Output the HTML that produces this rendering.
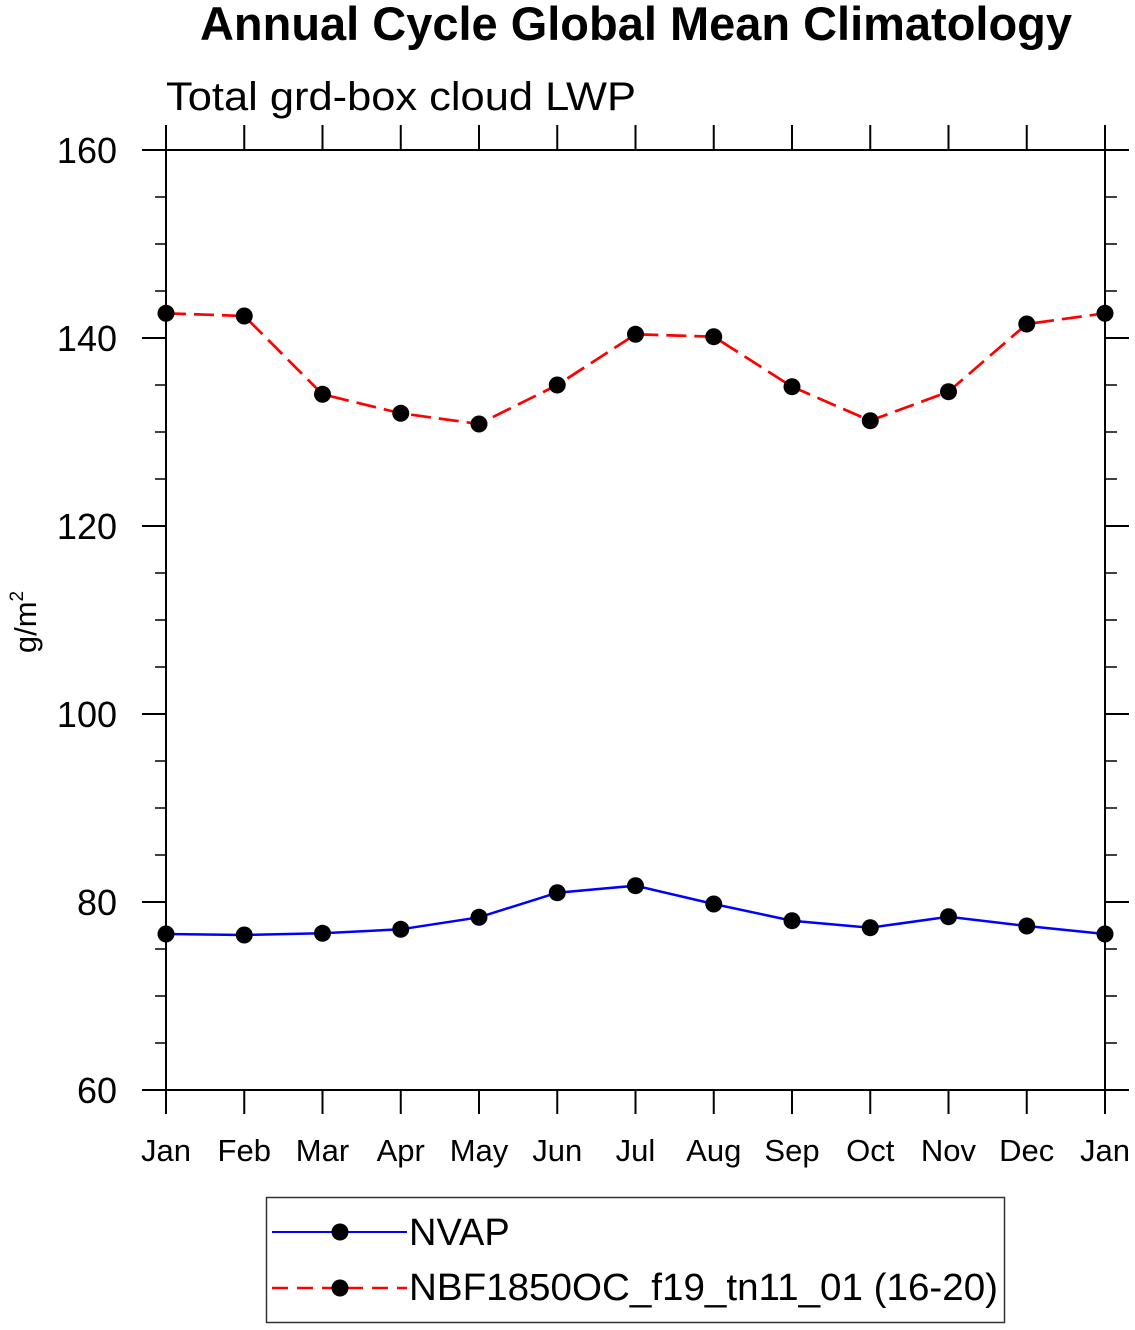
<!DOCTYPE html>
<html>
<head>
<meta charset="utf-8">
<style>
html,body{margin:0;padding:0;background:#fff;}
svg{display:block;}
text{font-family:"Liberation Sans",Arial,Helvetica,sans-serif;fill:#000;}
</style>
</head>
<body>
<svg width="1135" height="1330" viewBox="0 0 1135 1330" xmlns="http://www.w3.org/2000/svg">
<rect x="0" y="0" width="1135" height="1330" fill="#fff"/>

<!-- Titles -->
<text x="636" y="40" font-size="47" font-weight="bold" text-anchor="middle" textLength="872" lengthAdjust="spacingAndGlyphs">Annual Cycle Global Mean Climatology</text>
<text x="166" y="110" font-size="40" textLength="470" lengthAdjust="spacingAndGlyphs">Total grd-box cloud LWP</text>

<!-- Y axis label -->
<text transform="translate(36,622) rotate(-90)" font-size="31" text-anchor="middle">g/m<tspan font-size="19" dy="-13">2</tspan></text>

<!-- Frame -->
<rect x="166" y="150" width="939" height="940" fill="none" stroke="#000" stroke-width="2"/>

<!-- Major y ticks -->
<g stroke="#000" stroke-width="2">
<line x1="142" y1="150" x2="166" y2="150"/><line x1="1105" y1="150" x2="1129" y2="150"/>
<line x1="142" y1="338" x2="166" y2="338"/><line x1="1105" y1="338" x2="1129" y2="338"/>
<line x1="142" y1="526" x2="166" y2="526"/><line x1="1105" y1="526" x2="1129" y2="526"/>
<line x1="142" y1="714" x2="166" y2="714"/><line x1="1105" y1="714" x2="1129" y2="714"/>
<line x1="142" y1="902" x2="166" y2="902"/><line x1="1105" y1="902" x2="1129" y2="902"/>
<line x1="142" y1="1090" x2="166" y2="1090"/><line x1="1105" y1="1090" x2="1129" y2="1090"/>
</g>
<!-- Minor y ticks -->
<g stroke="#000" stroke-width="1.5">
<line x1="155" y1="197" x2="166" y2="197"/><line x1="1105" y1="197" x2="1117" y2="197"/>
<line x1="155" y1="244" x2="166" y2="244"/><line x1="1105" y1="244" x2="1117" y2="244"/>
<line x1="155" y1="291" x2="166" y2="291"/><line x1="1105" y1="291" x2="1117" y2="291"/>
<line x1="155" y1="385" x2="166" y2="385"/><line x1="1105" y1="385" x2="1117" y2="385"/>
<line x1="155" y1="432" x2="166" y2="432"/><line x1="1105" y1="432" x2="1117" y2="432"/>
<line x1="155" y1="479" x2="166" y2="479"/><line x1="1105" y1="479" x2="1117" y2="479"/>
<line x1="155" y1="573" x2="166" y2="573"/><line x1="1105" y1="573" x2="1117" y2="573"/>
<line x1="155" y1="620" x2="166" y2="620"/><line x1="1105" y1="620" x2="1117" y2="620"/>
<line x1="155" y1="667" x2="166" y2="667"/><line x1="1105" y1="667" x2="1117" y2="667"/>
<line x1="155" y1="761" x2="166" y2="761"/><line x1="1105" y1="761" x2="1117" y2="761"/>
<line x1="155" y1="808" x2="166" y2="808"/><line x1="1105" y1="808" x2="1117" y2="808"/>
<line x1="155" y1="855" x2="166" y2="855"/><line x1="1105" y1="855" x2="1117" y2="855"/>
<line x1="155" y1="949" x2="166" y2="949"/><line x1="1105" y1="949" x2="1117" y2="949"/>
<line x1="155" y1="996" x2="166" y2="996"/><line x1="1105" y1="996" x2="1117" y2="996"/>
<line x1="155" y1="1043" x2="166" y2="1043"/><line x1="1105" y1="1043" x2="1117" y2="1043"/>
</g>
<!-- X ticks -->
<g stroke="#000" stroke-width="2">
<line x1="166" y1="125" x2="166" y2="150"/><line x1="166" y1="1090" x2="166" y2="1114"/>
<line x1="244.25" y1="125" x2="244.25" y2="150"/><line x1="244.25" y1="1090" x2="244.25" y2="1114"/>
<line x1="322.5" y1="125" x2="322.5" y2="150"/><line x1="322.5" y1="1090" x2="322.5" y2="1114"/>
<line x1="400.75" y1="125" x2="400.75" y2="150"/><line x1="400.75" y1="1090" x2="400.75" y2="1114"/>
<line x1="479" y1="125" x2="479" y2="150"/><line x1="479" y1="1090" x2="479" y2="1114"/>
<line x1="557.25" y1="125" x2="557.25" y2="150"/><line x1="557.25" y1="1090" x2="557.25" y2="1114"/>
<line x1="635.5" y1="125" x2="635.5" y2="150"/><line x1="635.5" y1="1090" x2="635.5" y2="1114"/>
<line x1="713.75" y1="125" x2="713.75" y2="150"/><line x1="713.75" y1="1090" x2="713.75" y2="1114"/>
<line x1="792" y1="125" x2="792" y2="150"/><line x1="792" y1="1090" x2="792" y2="1114"/>
<line x1="870.25" y1="125" x2="870.25" y2="150"/><line x1="870.25" y1="1090" x2="870.25" y2="1114"/>
<line x1="948.5" y1="125" x2="948.5" y2="150"/><line x1="948.5" y1="1090" x2="948.5" y2="1114"/>
<line x1="1026.75" y1="125" x2="1026.75" y2="150"/><line x1="1026.75" y1="1090" x2="1026.75" y2="1114"/>
<line x1="1105" y1="125" x2="1105" y2="150"/><line x1="1105" y1="1090" x2="1105" y2="1114"/>
</g>

<!-- Y tick labels -->
<g font-size="36" text-anchor="end">
<text x="117" y="163">160</text>
<text x="117" y="351">140</text>
<text x="117" y="539">120</text>
<text x="117" y="727">100</text>
<text x="117" y="915">80</text>
<text x="117" y="1103">60</text>
</g>

<!-- X tick labels -->
<g font-size="31" text-anchor="middle">
<text x="166" y="1161">Jan</text>
<text x="244.25" y="1161">Feb</text>
<text x="322.5" y="1161">Mar</text>
<text x="400.75" y="1161">Apr</text>
<text x="479" y="1161">May</text>
<text x="557.25" y="1161">Jun</text>
<text x="635.5" y="1161">Jul</text>
<text x="713.75" y="1161">Aug</text>
<text x="792" y="1161">Sep</text>
<text x="870.25" y="1161">Oct</text>
<text x="948.5" y="1161">Nov</text>
<text x="1026.75" y="1161">Dec</text>
<text x="1105" y="1161">Jan</text>
</g>

<!-- Red dashed series -->
<polyline fill="none" stroke="#ff0000" stroke-width="2.7" stroke-dasharray="20 8"
 points="166,313.3 244.25,316 322.5,394.3 400.75,413.3 479,424 557.25,385 635.5,334.3 713.75,336.7 792,386.7 870.25,420.7 948.5,391.7 1026.75,324 1105,313.3"/>
<!-- Blue series -->
<polyline fill="none" stroke="#0000ff" stroke-width="2.5"
 points="166,934 244.25,935 322.5,933.3 400.75,929.3 479,917.3 557.25,892.7 635.5,885.7 713.75,904 792,920.7 870.25,927.7 948.5,916.7 1026.75,926 1105,934"/>

<!-- Markers -->
<g fill="#000">
<circle cx="166" cy="313.3" r="8.5"/><circle cx="244.25" cy="316" r="8.5"/><circle cx="322.5" cy="394.3" r="8.5"/>
<circle cx="400.75" cy="413.3" r="8.5"/><circle cx="479" cy="424" r="8.5"/><circle cx="557.25" cy="385" r="8.5"/>
<circle cx="635.5" cy="334.3" r="8.5"/><circle cx="713.75" cy="336.7" r="8.5"/><circle cx="792" cy="386.7" r="8.5"/>
<circle cx="870.25" cy="420.7" r="8.5"/><circle cx="948.5" cy="391.7" r="8.5"/><circle cx="1026.75" cy="324" r="8.5"/>
<circle cx="1105" cy="313.3" r="8.5"/>
<circle cx="166" cy="934" r="8.5"/><circle cx="244.25" cy="935" r="8.5"/><circle cx="322.5" cy="933.3" r="8.5"/>
<circle cx="400.75" cy="929.3" r="8.5"/><circle cx="479" cy="917.3" r="8.5"/><circle cx="557.25" cy="892.7" r="8.5"/>
<circle cx="635.5" cy="885.7" r="8.5"/><circle cx="713.75" cy="904" r="8.5"/><circle cx="792" cy="920.7" r="8.5"/>
<circle cx="870.25" cy="927.7" r="8.5"/><circle cx="948.5" cy="916.7" r="8.5"/><circle cx="1026.75" cy="926" r="8.5"/>
<circle cx="1105" cy="934" r="8.5"/>
</g>

<!-- Legend -->
<rect x="266.5" y="1197.5" width="738" height="125" fill="none" stroke="#333" stroke-width="1.5"/>
<line x1="272" y1="1232" x2="407" y2="1232" stroke="#0000ff" stroke-width="2"/>
<circle cx="340" cy="1232" r="8.5" fill="#000"/>
<text x="409" y="1245" font-size="38">NVAP</text>
<line x1="272" y1="1288" x2="407" y2="1288" stroke="#ff0000" stroke-width="2.5" stroke-dasharray="16 9"/>
<circle cx="340" cy="1288" r="8.5" fill="#000"/>
<text x="409" y="1300" font-size="38" textLength="589" lengthAdjust="spacingAndGlyphs">NBF1850OC_f19_tn11_01 (16-20)</text>
</svg>
</body>
</html>
